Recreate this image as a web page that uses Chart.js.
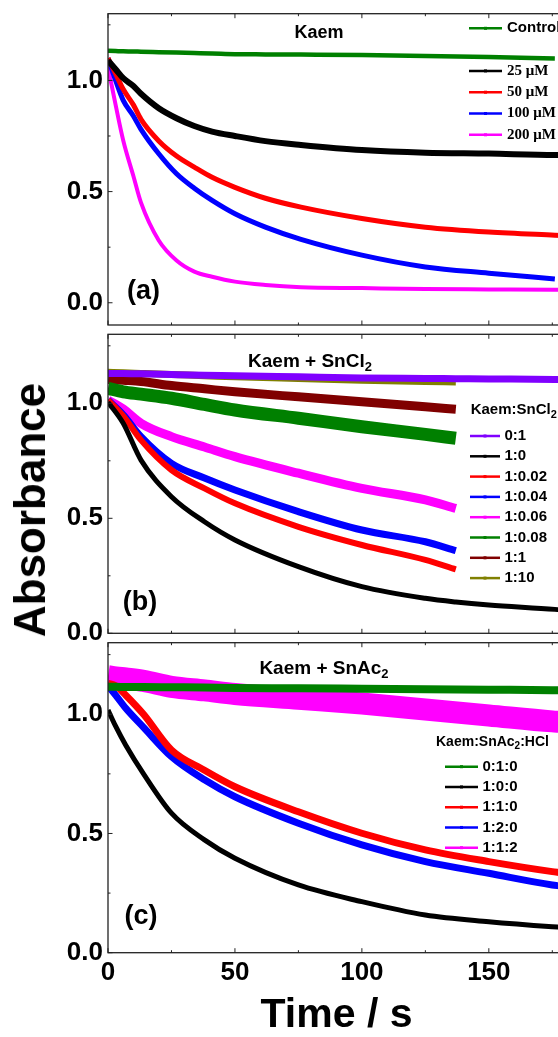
<!DOCTYPE html>
<html>
<head>
<meta charset="utf-8">
<script src="https://cdn.jsdelivr.net/npm/chart.js@4/dist/chart.umd.min.js"></script>
<style>
    html, body { margin: 0; padding: 0; background: #fff; }
    body { width: 558px; height: 1037px; overflow: hidden; position: relative; font-family: "Liberation Sans", Arial, sans-serif; }
    canvas { position: absolute; left: 0; }
    #ylabel {
        position: absolute; left: 30px; top: 510px;
        transform: translate(-50%, -50%) rotate(-90deg);
        font: bold 44px "Liberation Sans", Arial, sans-serif;
        white-space: nowrap; color: #000;
    }
</style>
</head>
<body>
<canvas id="chartA" width="575" height="330" style="top:0px"></canvas>
<canvas id="chartB" width="575" height="320" style="top:330px"></canvas>
<canvas id="chartC" width="575" height="410" style="top:636px"></canvas>
<div id="ylabel">Absorbance</div>

<script>
// axis ticks
const timeTicks = [0, 50, 100, 150];
const absTicks = [0, 0.5, 1.0];

// (a) Kaem alone, different concentrations
const timeA = [0, 3, 6, 10, 13, 20, 27, 34, 41, 50, 62, 76, 100, 125, 150, 176, 180];
const labelsA = ['Control', '25 μM', '50 μM', '100 μM', '200 μM'];
const controlA = [1.133, 1.132, 1.131, 1.130, 1.129, 1.127, 1.125, 1.123, 1.121, 1.118, 1.117, 1.116, 1.114, 1.110, 1.105, 1.099, null];
const kaem25 = [1.09, 1.05, 1.01, 0.975, 0.94, 0.875, 0.83, 0.795, 0.77, 0.75, 0.727, 0.71, 0.687, 0.675, 0.671, 0.665, 0.665];
const kaem50 = [1.10, 1.03, 0.96, 0.89, 0.825, 0.728, 0.66, 0.61, 0.564, 0.519, 0.47, 0.43, 0.379, 0.34, 0.318, 0.304, 0.302];
const kaem100 = [1.10, 1.00, 0.91, 0.84, 0.78, 0.67, 0.58, 0.515, 0.46, 0.40, 0.34, 0.285, 0.214, 0.161, 0.133, 0.107, null];
const kaem200 = [1.06, 0.89, 0.73, 0.57, 0.45, 0.28, 0.19, 0.14, 0.117, 0.095, 0.08, 0.07, 0.066, 0.062, 0.06, 0.058, 0.058];

// (b) Kaem + SnCl2
const timeB = [0, 6, 13, 25, 38, 50, 75, 100, 125, 137, 150, 176, 180];
const labelsB = ['0:1', '1:0', '1:0.02', '1:0.04', '1:0.06', '1:0.08', '1:1', '1:10'];
const sn01 = [1.13, 1.13, 1.128, 1.125, 1.122, 1.12, 1.115, 1.11, 1.108, 1.107, 1.106, 1.104, 1.104];
const sn10 = [1.005, 0.913, 0.753, 0.594, 0.485, 0.406, 0.290, 0.203, 0.152, 0.136, 0.123, 0.104, 0.10];
const sn1002 = [1.014, 0.945, 0.84, 0.71, 0.63, 0.565, 0.463, 0.384, 0.319, 0.278, null, null, null];
const sn1004 = [1.014, 0.95, 0.855, 0.739, 0.675, 0.623, 0.529, 0.449, 0.398, 0.359, null, null, null];
const sn1006 = [1.014, 0.975, 0.913, 0.855, 0.81, 0.768, 0.696, 0.630, 0.580, 0.543, null, null, null];
const sn1008 = [1.065, 1.05, 1.04, 1.022, 0.995, 0.971, 0.935, 0.898, 0.865, 0.848, null, null, null];
const sn11 = [1.104, 1.10, 1.095, 1.077, 1.063, 1.050, 1.028, 1.007, 0.985, 0.974, null, null, null];
const sn110 = [1.135, 1.133, 1.13, 1.125, 1.12, 1.115, 1.108, 1.10, 1.095, 1.093, null, null, null];

// (c) Kaem + SnAc2 (+HCl)
const timeC = [0, 3, 7, 14, 25, 38, 50, 75, 100, 125, 150, 175, 178];
const labelsC = ['0:1:0', '1:0:0', '1:1:0', '1:2:0', '1:1:2'];
const ac010 = [1.115, 1.115, 1.114, 1.114, 1.113, 1.112, 1.11, 1.109, 1.107, 1.105, 1.103, 1.101, 1.101];
const ac100 = [1.018, 0.95, 0.87, 0.75, 0.585, 0.473, 0.396, 0.284, 0.214, 0.158, 0.130, 0.109, 0.107];
const ac110 = [1.13, 1.12, 1.08, 1.0, 0.85, 0.765, 0.696, 0.591, 0.501, 0.431, 0.382, 0.340, 0.336];
const ac120 = [1.12, 1.08, 1.025, 0.945, 0.822, 0.725, 0.654, 0.543, 0.452, 0.382, 0.333, 0.284, 0.28];
const ac112 = [1.16, 1.155, 1.15, 1.14, 1.115, 1.10, 1.085, 1.065, 1.045, 1.02, 0.995, 0.97, 0.968];

// styles
const colorsA = ['#008000', '#000000', '#ff0000', '#0000ff', '#ff00ff'];
const widthsA = [4.5, 6, 5, 5, 4];
const colorsB = ['#8000ff', '#000000', '#ff0000', '#0000ff', '#ff00ff', '#008000', '#800000', '#808000'];
const widthsB = [7, 5, 6, 7, 9, 13, 9, 7];
const colorsC = ['#008000', '#000000', '#ff0000', '#0000ff', '#ff00ff'];
const widthsC = [8, 5, 7, 7, 22];

const SANS = '"Liberation Sans", Arial, sans-serif';
const SERIF = '"Liberation Serif", "Times New Roman", serif';
Chart.defaults.font.family = SANS;
Chart.defaults.color = '#000';

const toPoints = (times, vals) => times
    .map((t, i) => ({ x: t, y: vals[i] }))
    .filter(p => p.y !== null);

const buildSets = (times, labels, series, colors, widths) => series.map((vals, i) => ({
    label: labels[i],
    data: toPoints(times, vals),
    borderColor: colors[i],
    backgroundColor: colors[i],
    borderWidth: widths[i],
    pointRadius: 0,
    cubicInterpolationMode: 'monotone',
    fill: false
}));

// "SnCl_2" -> SnCl with subscript 2
const drawRich = (ctx, text, x, y, size, align, family) => {
    const pieces = text.split('_');
    const parts = [[pieces[0], false]];
    pieces.slice(1).forEach(p => { parts.push([p[0], true]); if (p.length > 1) parts.push([p.slice(1), false]); });
    const fMain = `bold ${size}px ${family || SANS}`;
    const fSub = `bold ${Math.round(size * 0.7)}px ${family || SANS}`;
    let w = 0;
    parts.forEach(([t, s]) => { ctx.font = s ? fSub : fMain; w += ctx.measureText(t).width; });
    let cx = align === 'center' ? x - w / 2 : x;
    ctx.textAlign = 'left';
    ctx.textBaseline = 'middle';
    ctx.fillStyle = '#000';
    parts.forEach(([t, s]) => {
        ctx.font = s ? fSub : fMain;
        ctx.fillText(t, cx, s ? y + size * 0.3 : y);
        cx += ctx.measureText(t).width;
    });
};

// box + inward ticks like Origin
const framePlugin = {
    id: 'frame',
    afterDatasetsDraw(chart) {
        const { ctx, chartArea: a, scales: { x, y } } = chart;
        ctx.save();
        ctx.strokeStyle = '#222';
        ctx.lineWidth = 1.3;
        ctx.strokeRect(a.left, a.top, a.right - a.left, a.bottom - a.top);
        ctx.lineWidth = 1;
        const mark = (x1, y1, x2, y2) => { ctx.beginPath(); ctx.moveTo(x1, y1); ctx.lineTo(x2, y2); ctx.stroke(); };
        for (let v = 0; v <= x.max; v += 25) {
            const px = x.getPixelForValue(v);
            const len = v % 50 === 0 ? 4.5 : 2.5;
            mark(px, a.bottom, px, a.bottom - len);
            mark(px, a.top, px, a.top + len);
        }
        for (let v = 0; v <= y.max + 1e-9; v += 0.25) {
            const py = y.getPixelForValue(v);
            const len = Math.abs(v * 2 - Math.round(v * 2)) < 1e-6 ? 4.5 : 2.5;
            mark(a.left, py, a.left + len, py);
        }
        ctx.restore();
    }
};

const legendPlugin = {
    id: 'sketchLegend',
    afterDraw(chart, args, opts) {
        const { ctx } = chart;
        ctx.save();
        if (opts.title) drawRich(ctx, opts.title, opts.titleX, opts.titleY, opts.titleSize, 'left');
        chart.data.datasets.forEach((ds, i) => {
            const yy = opts.y + opts.rows[i] * opts.dy;
            ctx.strokeStyle = ds.borderColor;
            ctx.lineWidth = 2.5;
            ctx.beginPath();
            ctx.moveTo(opts.x, yy);
            ctx.lineTo(opts.x + opts.len, yy);
            ctx.stroke();
            ctx.fillStyle = ds.borderColor;
            ctx.fillRect(opts.x + opts.len / 2 - 1.5, yy - 1.5, 3, 3);
            const fam = ds.label.includes('μ') ? SERIF : SANS;
            drawRich(ctx, ds.label, opts.x + opts.len + opts.gap, yy, opts.size, 'left', fam);
        });
        ctx.restore();
    }
};

const notesPlugin = {
    id: 'notes',
    afterDraw(chart, args, opts) {
        const { ctx } = chart;
        ctx.save();
        (opts.items || []).forEach(n => drawRich(ctx, n.text, n.x, n.y, n.size, n.align));
        ctx.restore();
    }
};

const makeOptions = (cfg) => ({
    responsive: false,
    animation: false,
    layout: { padding: { top: cfg.padTop, right: 10, left: 0, bottom: 0 } },
    plugins: {
        legend: { display: false },
        tooltip: { enabled: false },
        sketchLegend: cfg.legend,
        notes: { items: cfg.notes }
    },
    scales: {
        x: {
            type: 'linear',
            min: 0,
            max: 180,
            afterBuildTicks: s => { s.ticks = timeTicks.map(v => ({ value: v })); },
            afterFit: s => { s.height = cfg.xHeight; s.paddingLeft = 0; s.paddingRight = 0; },
            grid: { display: false, drawTicks: false },
            border: { display: false },
            ticks: {
                display: cfg.xLabels,
                padding: 5,
                color: '#000',
                font: { size: 26, weight: 'bold' }
            },
            title: {
                display: cfg.xLabels,
                text: 'Time / s',
                color: '#000',
                padding: { top: 0, bottom: 6 },
                font: { size: 41, weight: 'bold' }
            }
        },
        y: {
            min: cfg.yMin,
            max: 1.3,
            afterBuildTicks: s => { s.ticks = absTicks.map(v => ({ value: v })); },
            afterFit: s => { s.width = 108; s.paddingTop = 0; s.paddingBottom = 0; },
            grid: { display: false, drawTicks: false },
            border: { display: false },
            ticks: {
                padding: 5,
                color: '#000',
                font: { size: 26, weight: 'bold' },
                callback: v => v.toFixed(1)
            }
        }
    }
});

new Chart(document.getElementById('chartA'), {
    type: 'line',
    data: { datasets: buildSets(timeA, labelsA, [controlA, kaem25, kaem50, kaem100, kaem200], colorsA, widthsA) },
    options: makeOptions({
        padTop: 13.7, xHeight: 5, yMin: -0.1, xLabels: false,
        legend: { x: 469, y: 28.3, dy: 21.3, rows: [0, 2, 3, 4, 5], len: 33, gap: 5, size: 15 },
        notes: [
            { text: 'Kaem', x: 319, y: 33, size: 18, align: 'center' },
            { text: '(a)', x: 127, y: 292, size: 27, align: 'left' }
        ]
    }),
    plugins: [framePlugin, legendPlugin, notesPlugin]
});

new Chart(document.getElementById('chartB'), {
    type: 'line',
    data: { datasets: buildSets(timeB, labelsB, [sn01, sn10, sn1002, sn1004, sn1006, sn1008, sn11, sn110], colorsB, widthsB) },
    options: makeOptions({
        padTop: 4.3, xHeight: 16.7, yMin: 0, xLabels: false,
        legend: {
            x: 470, y: 106, dy: 20.3, rows: [0, 1, 2, 3, 4, 5, 6, 7], len: 30, gap: 4.5, size: 15,
            title: 'Kaem:SnCl_2', titleX: 470.7, titleY: 80, titleSize: 15
        },
        notes: [
            { text: 'Kaem + SnCl_2', x: 310, y: 31.5, size: 19, align: 'center' },
            { text: '(b)', x: 122.7, y: 272.7, size: 27, align: 'left' }
        ]
    }),
    plugins: [framePlugin, legendPlugin, notesPlugin]
});

new Chart(document.getElementById('chartC'), {
    type: 'line',
    data: { datasets: buildSets(timeC, labelsC, [ac010, ac100, ac110, ac120, ac112], colorsC, widthsC) },
    options: makeOptions({
        padTop: 6.7, xHeight: 93.3, yMin: 0, xLabels: true,
        legend: {
            x: 445, y: 130.7, dy: 20.25, rows: [0, 1, 2, 3, 4], len: 33, gap: 4.5, size: 15,
            title: 'Kaem:SnAc_2:HCl', titleX: 436, titleY: 105.7, titleSize: 14
        },
        notes: [
            { text: 'Kaem + SnAc_2', x: 324, y: 33, size: 19, align: 'center' },
            { text: '(c)', x: 124.6, y: 280.7, size: 27, align: 'left' }
        ]
    }),
    plugins: [framePlugin, legendPlugin, notesPlugin]
});
</script>
</body>
</html>
